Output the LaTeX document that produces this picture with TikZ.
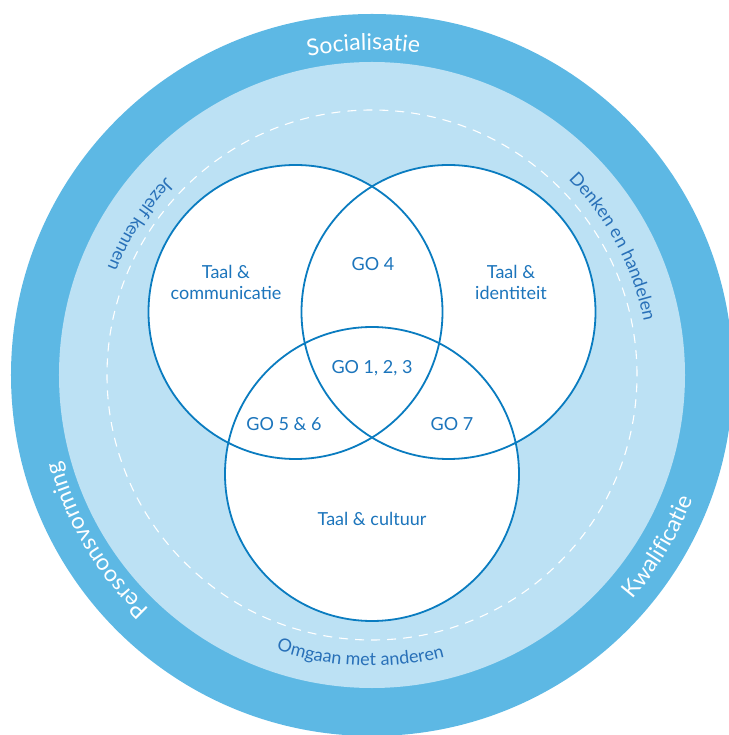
\documentclass[tikz,border=0pt]{standalone}
\usepackage{fontspec}
\setmainfont{Lato}
\usetikzlibrary{decorations.text}
\definecolor{ringdark}{RGB}{93,184,228}
\definecolor{ringlight}{RGB}{188,225,244}
\definecolor{vennline}{RGB}{10,124,192}
\definecolor{venntext}{RGB}{28,117,188}
\definecolor{arctext}{RGB}{40,112,184}
\begin{document}
\begin{tikzpicture}[x=1pt,y=1pt,
  vennc/.style={draw=vennline, line width=1.8pt},
  lbl/.style={text=venntext, align=center, font=\fontsize{18}{21}\selectfont, inner sep=0pt},
  golbl/.style={text=venntext, align=center, font=\fontsize{18}{21}\selectfont, inner sep=0pt}]
\useasboundingbox (-372,-360) rectangle (356,375);
\fill[ringdark] (0,0) circle (361);
\fill[ringlight] (0,0) circle (313);
\draw[white, line width=1.1pt, dash pattern=on 9pt off 7pt] (0,0) circle (265);
% Venn
\coordinate (cl) at (-76.5,63);
\coordinate (cr) at (76.5,63);
\coordinate (cb) at (0,-99);
\fill[white] (cl) circle (147);
\fill[white] (cr) circle (147);
\fill[white] (cb) circle (147);
\draw[vennc] (cl) circle (147);
\draw[vennc] (cr) circle (147);
\draw[vennc] (cb) circle (147);
\node[lbl] (tc) at (-146,92.5) {Taal \&\\communicatie};
\node[lbl] (ti) at (139,92.5) {Taal \&\\identiteit};
\node[lbl] (tcu) at (0,-144) {Taal \& cultuur};
\node[golbl] (g4) at (1,111) {GO 4};
\node[golbl] (g123) at (0,7) {GO 1, 2, 3};
\node[golbl] (g56) at (-88,-49) {GO 5 \& 6};
\node[golbl] (g7) at (80,-49) {GO 7};
% outer ring texts
\path[decorate, decoration={text along path, text align=center,
  text={|\fontsize{23}{27}\selectfont\color{white}|Socialisatie}}]
  (121.5:325) arc[start angle=121.5, end angle=61.5, radius=325];
\path[decorate, decoration={text along path, text align=center,
  text={|\fontsize{23}{27}\selectfont\color{white}|Kwalificatie}}]
  (-61:344) arc[start angle=-61, end angle=-1, radius=344];
\path[decorate, decoration={text along path, text align=center,
  text={|\fontsize{23}{27}\selectfont\color{white}|Persoonsvorming}}]
  (246:323) arc[start angle=246, end angle=176, radius=323];
% inner ring texts
\path[decorate, decoration={text along path, text align=center,
  text={|\fontsize{18}{21}\selectfont\color{arctext}|Denken en handelen}}]
  (68:277) arc[start angle=68, end angle=-12, radius=277];
\path[decorate, decoration={text along path, text align=center,
  text={|\fontsize{18}{21}\selectfont\color{arctext}|Jezelf kennen}}]
  (117:285.5) arc[start angle=117, end angle=177, radius=285.5];
\path[decorate, decoration={text along path, text align=center,
  text={|\fontsize{18}{21}\selectfont\color{arctext}|Omgaan met anderen}}]
  (227.6:291) arc[start angle=227.6, end angle=307.6, radius=291];
\end{tikzpicture}
\end{document}
